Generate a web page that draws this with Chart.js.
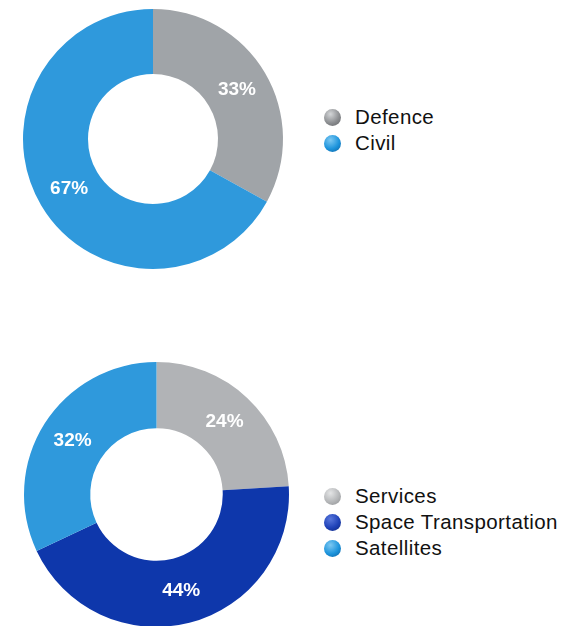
<!DOCTYPE html>
<html>
<head>
<meta charset="utf-8">
<script src="https://cdn.jsdelivr.net/npm/chart.js@4.4.1/dist/chart.umd.min.js"></script>
<style>
    html, body { margin: 0; padding: 0; background: #fff; }
    body { position: relative; width: 561px; height: 626px; overflow: hidden;
           font-family: "Liberation Sans", Arial, Helvetica, sans-serif; }
    .box { position: absolute; }
    .legend { position: absolute; left: 324px; }
    .legend .row { display: flex; align-items: center; height: 26px; }
    .legend .dot { width: 17px; height: 17px; border-radius: 50%; margin-right: 14px; flex: none; }
    .legend .txt { font-size: 20.5px; letter-spacing: 0.4px; color: #111; white-space: nowrap; }
</style>
</head>
<body>
<div class="box" style="left:0;top:0"><canvas id="myChart1" width="306" height="280"></canvas></div>
<div class="legend" id="legend1" style="top:104px"></div>
<div class="box" style="left:0;top:350px"><canvas id="myChart2" width="312" height="290"></canvas></div>
<div class="legend" id="legend2" style="top:483px"></div>

<script>
// budget split by sector
let labels1 = ['Defence', 'Civil'];
let data1 = [33, 67];
let colors1 = ['#a0a4a8', '#2f99dc'];
let dots1 = [['#d4d6d8', '#8d8f92', '#5e6063'], ['#7cc8f2', '#1d94dc', '#0b5e9c']];

// budget split by segment
let labels2 = ['Services', 'Space Transportation', 'Satellites'];
let data2 = [24, 44, 32];
let colors2 = ['#b1b3b6', '#0e37ab', '#2f99dc'];
let dots2 = [['#e4e5e6', '#b5b7b9', '#8c8e90'], ['#5a78dc', '#1f42b8', '#0c2478'], ['#7cc8f2', '#1d94dc', '#0b5e9c']];

// white percentage text in the middle of each slice
const sliceLabels = {
    id: 'sliceLabels',
    afterDatasetsDraw(chart) {
        const ctx = chart.ctx;
        const meta = chart.getDatasetMeta(0);
        const values = chart.data.datasets[0].data;
        ctx.save();
        ctx.fillStyle = '#ffffff';
        ctx.font = 'bold 19px "Liberation Sans", Arial, sans-serif';
        ctx.textAlign = 'center';
        ctx.textBaseline = 'middle';
        meta.data.forEach(function (arc, i) {
            const p = arc.tooltipPosition();
            ctx.fillText(values[i] + '%', p.x, p.y);
        });
        ctx.restore();
    }
};

function makeLegend(el, labels, dots) {
    labels.forEach(function (label, i) {
        const row = document.createElement('div');
        row.className = 'row';
        const dot = document.createElement('span');
        dot.className = 'dot';
        const c = dots[i];
        dot.style.background = 'radial-gradient(circle at 38% 30%, ' + c[0] + ' 0%, ' + c[1] + ' 55%, ' + c[2] + ' 100%)';
        const txt = document.createElement('span');
        txt.className = 'txt';
        txt.textContent = label;
        row.appendChild(dot);
        row.appendChild(txt);
        el.appendChild(row);
    });
}

function makeDonut(id, labels, data, colors, padding) {
    return new Chart(document.getElementById(id).getContext('2d'), {
        type: 'doughnut',
        data: {
            labels: labels,
            datasets: [{
                data: data,
                backgroundColor: colors,
                borderWidth: 0
            }]
        },
        options: {
            responsive: false,
            animation: false,
            events: [],
            cutout: '50%',
            layout: { padding: padding },
            plugins: {
                legend: { display: false },
                tooltip: { enabled: false }
            }
        },
        plugins: [sliceLabels]
    });
}

let chart1 = makeDonut('myChart1', labels1, data1, colors1, { left: 23, right: 23, top: 9, bottom: 11 });
let chart2 = makeDonut('myChart2', labels2, data2, colors2, { left: 24, right: 23, top: 12, bottom: 13 });

makeLegend(document.getElementById('legend1'), labels1, dots1);
makeLegend(document.getElementById('legend2'), labels2, dots2);
</script>
</body>
</html>
